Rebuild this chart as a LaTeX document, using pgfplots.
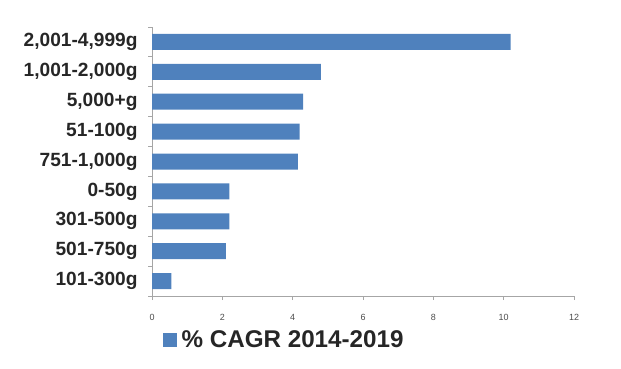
\documentclass[border=0pt]{standalone}
\usepackage{pgfplots}
\pgfplotsset{compat=1.18}
\usepackage{fontspec}
\setmainfont{Liberation Sans}
\definecolor{barblue}{HTML}{4F81BD}
\definecolor{axgray}{HTML}{A6A6A6}
\definecolor{txt}{HTML}{262626}
\begin{document}
\begin{tikzpicture}
\path[use as bounding box] (0,0) rectangle (621bp,369bp);
\begin{axis}[
  at={(152bp,73bp)}, anchor=south west,
  scale only axis, width=422bp, height=269bp,
  xbar, bar width=16bp,
  xmin=0, xmax=12,
  ymin=-0.5, ymax=8.5,
  y dir=reverse,
  axis lines=left,
  axis line style={-, draw=axgray, line width=0.8pt},
  xtick={0,2,...,12},
  minor xtick={0,2,...,12},
  ytick={0,...,8},
  yticklabels={2{,}001-4{,}999g,1{,}001-2{,}000g,5{,}000+g,51-100g,751-1{,}000g,0-50g,301-500g,501-750g,101-300g},
  minor ytick={-0.5,0.5,...,8.5},
  major tick length=0pt,
  minor tick length=4bp,
  tick align=outside,
  tick style={draw=axgray, line width=0.8pt},
  /pgf/number format/assume math mode=true,
  xticklabel style={font=\fontsize{9}{10}\selectfont, text=black!70, yshift=-15bp},
  yticklabel style={font=\fontsize{19.2}{22}\bfseries\selectfont, text=txt, xshift=-11bp},
  legend style={at={(0.313,-0.164)}, anchor=center, draw=none, fill=none,
    font=\fontsize{24.3}{27}\bfseries\selectfont, text=txt},
  legend image code/.code={\fill[barblue] (-4bp,-7bp) rectangle (10bp,7bp); \path (13bp,0bp);},
]
\addplot[fill=barblue, draw=none] coordinates {
  (10.2,0) (4.8,1) (4.3,2) (4.2,3) (4.15,4) (2.2,5) (2.2,6) (2.1,7) (0.55,8)
};
\addlegendentry{\% CAGR 2014-2019}
\end{axis}
\end{tikzpicture}
\end{document}
